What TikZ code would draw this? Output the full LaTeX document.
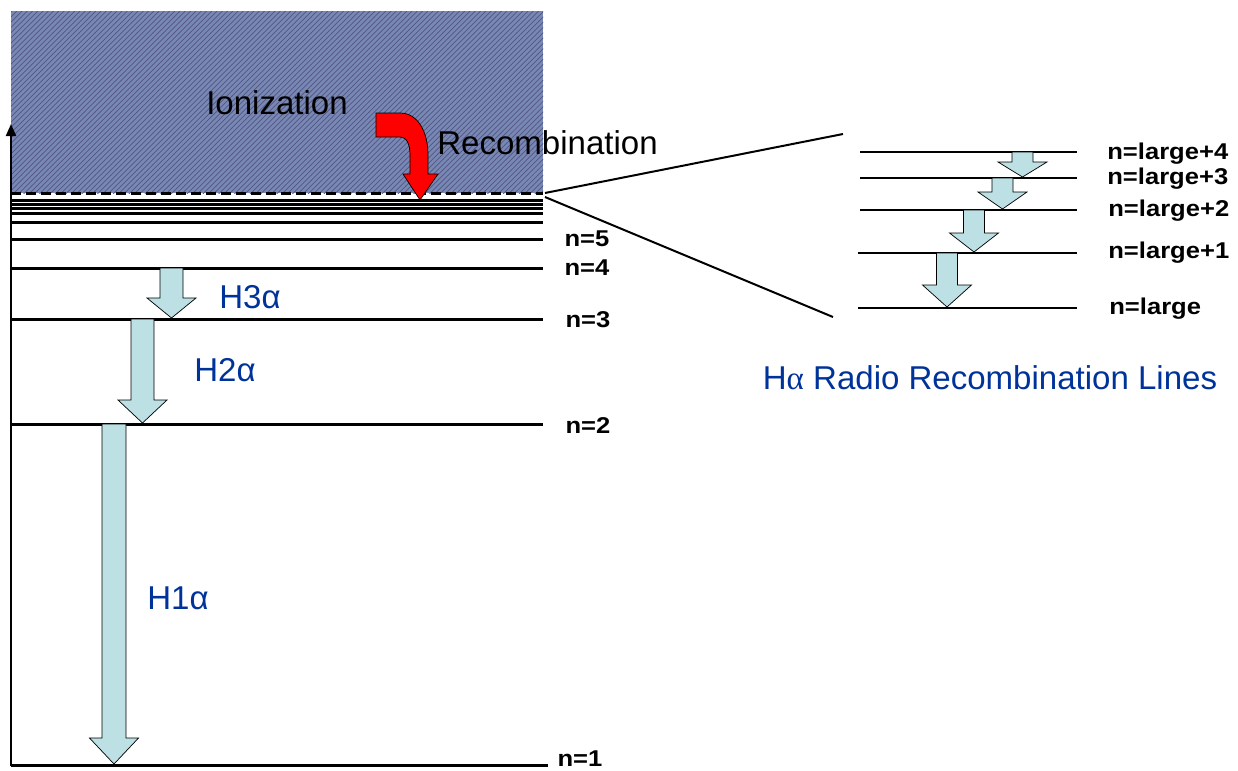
\documentclass[tikz,border=0pt]{standalone}
\usepackage{fontspec}
\setmainfont{Liberation Sans}
\newfontfamily\lblfont[FakeStretch=1.12]{Liberation Sans}
\newfontfamily\symfont{Liberation Serif}
\usepackage{xcolor}
\usepackage{tikz}
\usetikzlibrary{arrows.meta,patterns}
\definecolor{hatchBase}{RGB}{120,136,180}
\definecolor{hatchLine}{RGB}{84,84,130}
\definecolor{blockFill}{RGB}{188,224,228}
\definecolor{lineBlue}{RGB}{0,51,153}
\tikzstyle{tsLevel} = [
    draw=black,
    line width=0.06cm
]
\tikzstyle{tsZoomLevel} = [
    draw=black,
    line width=0.05cm
]
\tikzstyle{tsLabel} = [
    text=black,
    font=\lblfont\bfseries\fontsize{13}{14}\selectfont,
    inner sep=0pt
]
\tikzstyle{tsBigText} = [
    text=black,
    font=\fontsize{18.8}{21}\selectfont,
    inner sep=0pt
]
\tikzstyle{tsLineName} = [
    tsBigText,
    text=lineBlue
]
\tikzstyle{tsBlock} = [
    fill=blockFill,
    draw=black,
    line width=0.4pt,
    line join=miter
]
% downward block arrow: x, top, head base, tip, shaft half width, head half width
\newcommand{\downblock}[6]{%
    \draw[tsBlock] (#1-#5,#2) -- (#1+#5,#2) -- (#1+#5,#3) -- (#1+#6,#3)
        -- (#1,#4) -- (#1-#6,#3) -- (#1-#5,#3) -- cycle;}

\begin{document}
\begin{tikzpicture}[x=0.02cm, y=-0.02cm]

        \useasboundingbox (0,0) rectangle (1238,771);

        % ionized continuum
        \fill[hatchBase] (11,11) rectangle (543,193);
        \fill[pattern=north east lines, pattern color=hatchLine] (11,11) rectangle (543,193);

        % energy axis
        \draw[line width=0.04cm, -{Triangle[width=0.2cm,length=0.24cm]}] (11,766) -- (11,124);

        % levels
        \draw[tsLevel, dash pattern=on 0.2cm off 0.1cm] (11,193) -- (543,193);
        \draw[tsLevel] (11,200) -- (543,200);
        \draw[tsLevel] (11,204) -- (543,204);
        \draw[tsLevel] (11,208) -- (543,208);
        \draw[tsLevel] (11,213) -- (543,213);
        \draw[tsLevel] (11,222) -- (543,222);
        \draw[tsLevel] (11,239) -- (543,239);
        \draw[tsLevel] (11,268) -- (543,268);
        \draw[tsLevel] (11,319) -- (543,319);
        \draw[tsLevel] (11,424) -- (543,424);
        \draw[tsLevel] (11,765) -- (548,765);

        \node[tsLabel] (n5) at (587,239) {n=5};
        \node[tsLabel] (n4) at (587,268) {n=4};
        \node[tsLabel] (n3) at (588,320) {n=3};
        \node[tsLabel] (n2) at (588,426) {n=2};
        \node[tsLabel] (n1) at (580,759) {n=1};

        % Balmer-like transitions
        \downblock{171.5}{268}{298}{318}{11.5}{24.5}
        \downblock{142.5}{319}{400}{423}{11.5}{24.5}
        \downblock{114}{424}{738}{764}{12}{24.5}

        \node[tsLineName, anchor=west] (h3) at (219,297) {H3α};
        \node[tsLineName, anchor=west] (h2) at (194,370) {H2α};
        \node[tsLineName, anchor=west] (h1) at (147,598) {H1α};

        % recombination
        \draw[fill=red, draw=black, line width=0.4pt]
            (376,113) -- (400,113) .. controls (418,113) and (428,132) .. (428,155)
            -- (428,174) -- (438,174) -- (420,200) -- (403,174) -- (410,174)
            -- (410,155) .. controls (410,143) and (406,137) .. (400,137)
            -- (376,137) -- cycle;

        \node[tsBigText] (ion) at (277,103) {Ionization};
        \node[tsBigText, anchor=west] (rec) at (437,143) {Recombination};

        % zoom lines
        \draw[line width=0.04cm] (545,193) -- (843,134);
        \draw[line width=0.04cm] (545,197) -- (833,317);

        % high levels
        \draw[tsZoomLevel] (860,152) -- (1077,152);
        \draw[tsZoomLevel] (860,178) -- (1077,178);
        \draw[tsZoomLevel] (860,210) -- (1077,210);
        \draw[tsZoomLevel] (858,253) -- (1077,253);
        \draw[tsZoomLevel] (858,308) -- (1077,308);

        \downblock{1022.5}{152}{162}{177}{10.5}{24.5}
        \downblock{1002.5}{178}{192}{209}{10.5}{24.5}
        \downblock{974}{210}{233}{252}{10.5}{24.5}
        \downblock{947}{253}{285}{307}{10.5}{24.5}

        \node[tsLabel, anchor=west] (nl4) at (1107,154) {n=large+4};
        \node[tsLabel, anchor=west] (nl3) at (1107,179) {n=large+3};
        \node[tsLabel, anchor=west] (nl2) at (1108,211) {n=large+2};
        \node[tsLabel, anchor=west] (nl1) at (1108,253) {n=large+1};
        \node[tsLabel, anchor=west] (nl0) at (1109,309) {n=large};

        \node[tsLineName] (rrl) at (990,378) {H{\symfont α} Radio Recombination Lines};

\end{tikzpicture}
\end{document}
